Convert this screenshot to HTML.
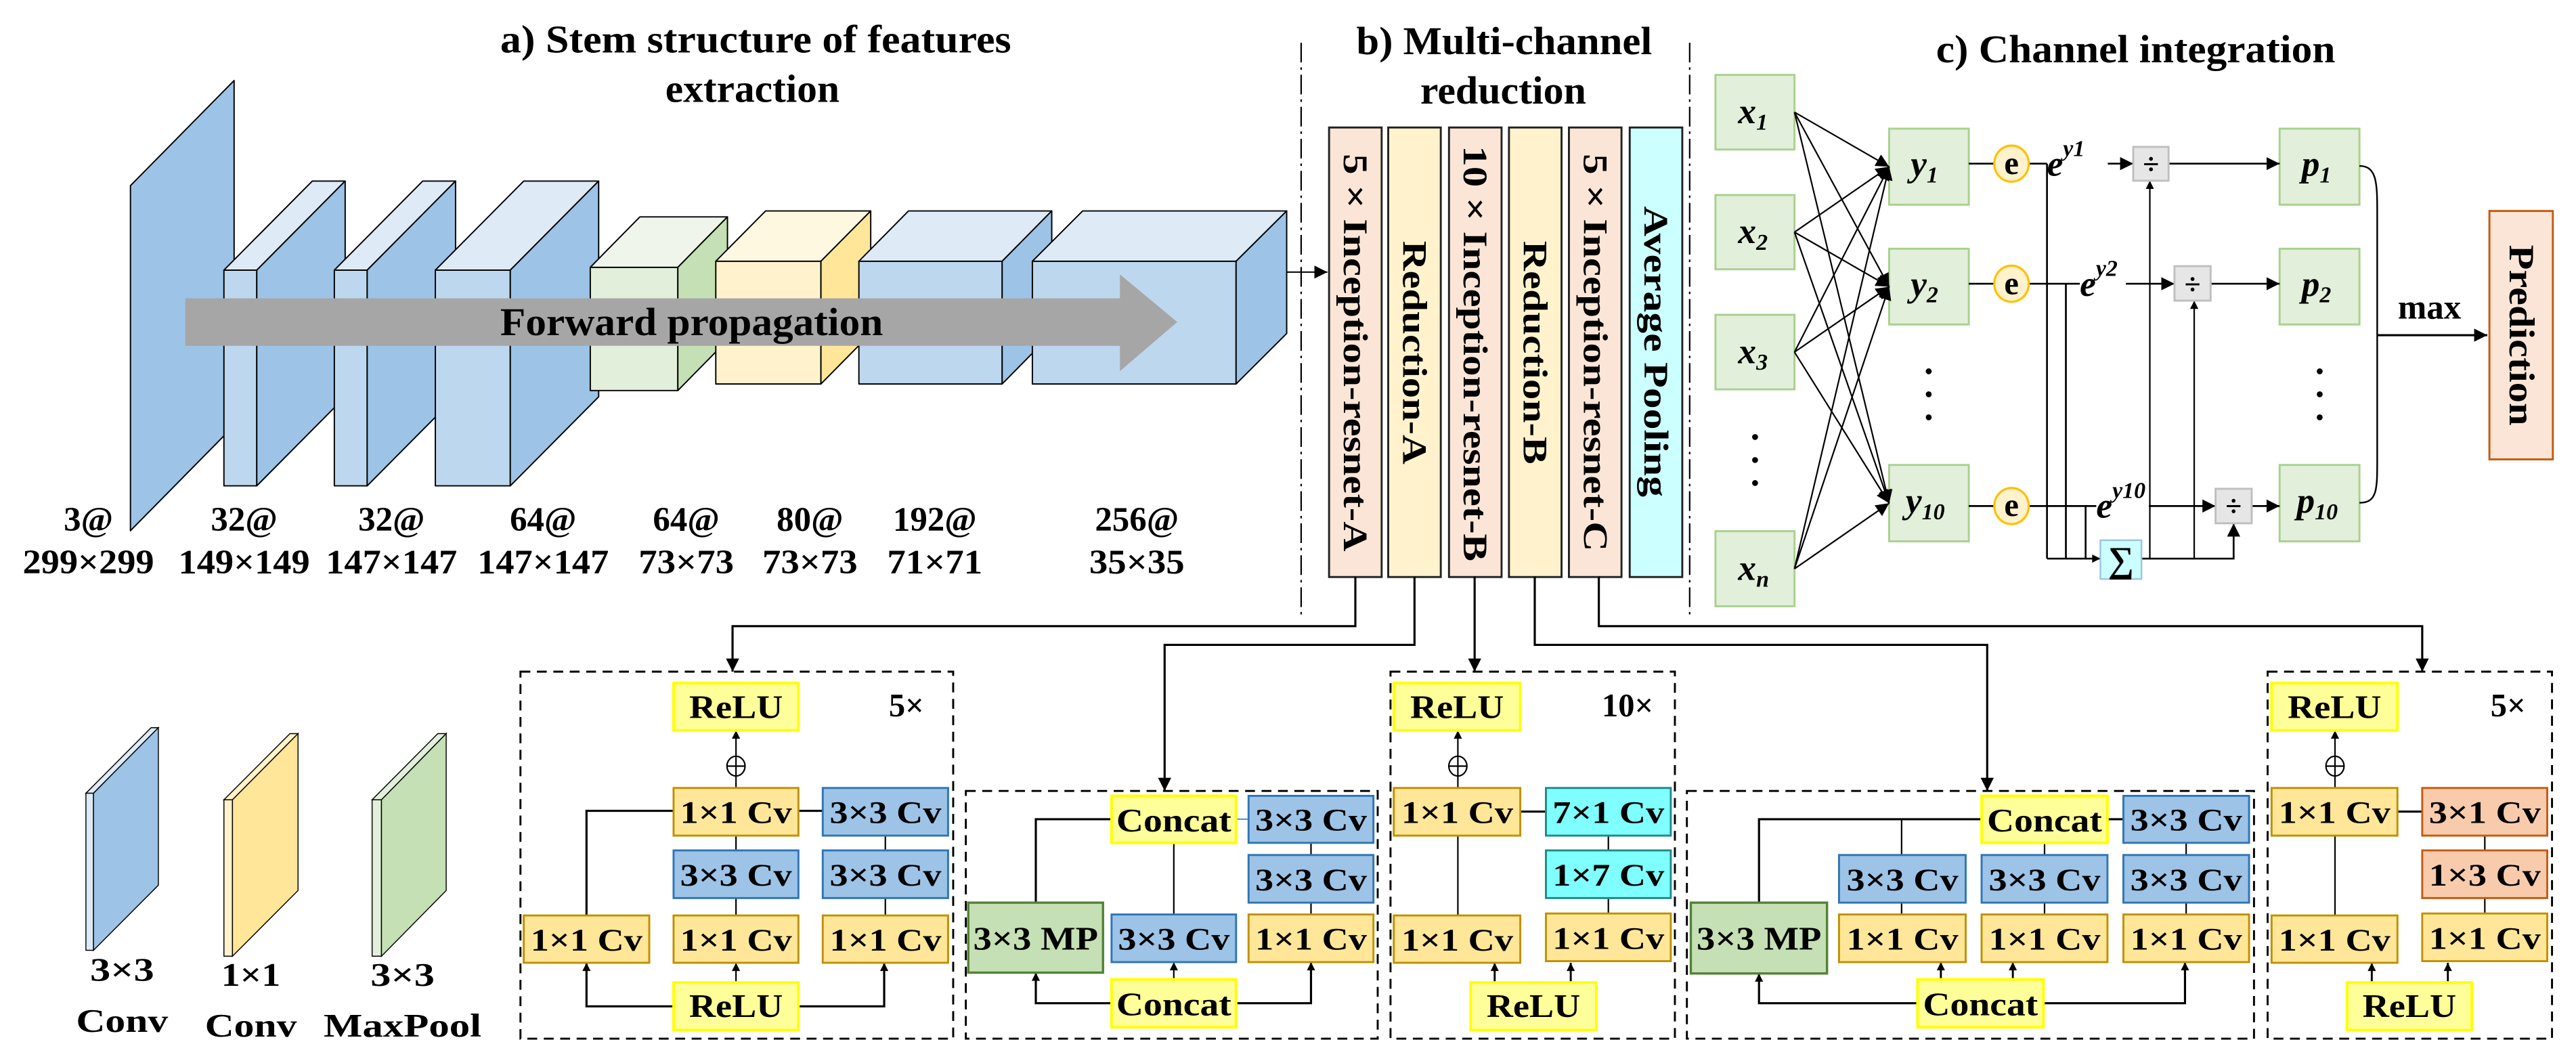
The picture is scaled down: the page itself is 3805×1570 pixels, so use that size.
<!DOCTYPE html>
<html><head><meta charset="utf-8"><style>html,body{margin:0;padding:0;background:#fff}svg{display:block}text{font-family:"Liberation Serif",serif;font-weight:bold;fill:#000}</style></head><body>
<svg width="3805" height="1570" viewBox="0 0 1568 647" preserveAspectRatio="none" xmlns="http://www.w3.org/2000/svg">
<defs>
<marker id="a" viewBox="0 0 10 10" refX="10" refY="5" markerWidth="8" markerHeight="8" markerUnits="userSpaceOnUse" orient="auto"><path d="M0,0L10,5L0,10z" fill="#000"/></marker>
<marker id="b" viewBox="0 0 10 10" refX="10" refY="5" markerWidth="6" markerHeight="5" markerUnits="userSpaceOnUse" orient="auto"><path d="M0,0L10,5L0,10z" fill="#000"/></marker>
</defs>
<rect width="1568" height="647" fill="#fff"/>
<!-- titles -->
<text x="460" y="32" font-size="24" text-anchor="middle" textLength="311" lengthAdjust="spacingAndGlyphs">a) Stem structure of features</text>
<text x="458" y="62" font-size="24" text-anchor="middle" textLength="106" lengthAdjust="spacingAndGlyphs">extraction</text>
<text x="915.6" y="33" font-size="24" text-anchor="middle" textLength="180" lengthAdjust="spacingAndGlyphs">b) Multi-channel</text>
<text x="915" y="63" font-size="24" text-anchor="middle" textLength="101" lengthAdjust="spacingAndGlyphs">reduction</text>
<text x="1300" y="38" font-size="24" text-anchor="middle" textLength="243" lengthAdjust="spacingAndGlyphs">c) Channel integration</text>
<!-- dash-dot separators -->
<g stroke="#000" stroke-width="0.9" stroke-dasharray="12,3,1.5,3">
<line x1="792" y1="26" x2="792" y2="374"/><line x1="1028.5" y1="26" x2="1028.5" y2="374"/></g>
<!-- stem -->
<g stroke="#000" stroke-width="0.8" stroke-linejoin="round">
<polygon points="79.4,113 142.5,49 142.5,259 79.4,323" fill="#9dc3e6"/>
<rect x="136.3" y="164.4" width="20" height="131.3" fill="#bdd7ee"/>
<polygon points="136.3,164.4 190.1,110.2 210.1,110.2 156.3,164.4" fill="#deebf7"/>
<polygon points="156.3,164.4 210.1,110.2 210.1,241.5 156.3,295.7" fill="#9dc3e6"/>
<rect x="203.5" y="164.4" width="20" height="131.3" fill="#bdd7ee"/>
<polygon points="203.5,164.4 257.3,110.2 277.3,110.2 223.5,164.4" fill="#deebf7"/>
<polygon points="223.5,164.4 277.3,110.2 277.3,241.5 223.5,295.7" fill="#9dc3e6"/>
<rect x="265" y="164.4" width="45.6" height="131.3" fill="#bdd7ee"/>
<polygon points="265,164.4 318.8,110.2 364.4,110.2 310.6,164.4" fill="#deebf7"/>
<polygon points="310.6,164.4 364.4,110.2 364.4,241.5 310.6,295.7" fill="#9dc3e6"/>
<rect x="359.3" y="162.7" width="53.3" height="75" fill="#e2efda"/>
<polygon points="359.3,162.7 389.5,132 442.8,132 412.6,162.7" fill="#eff5ea"/>
<polygon points="412.6,162.7 442.8,132 442.8,207 412.6,237.7" fill="#c5e0b4"/>
<rect x="435.7" y="159" width="64" height="74.7" fill="#fff2cc"/>
<polygon points="435.7,159 466,128.4 530,128.4 499.7,159" fill="#fff8e1"/>
<polygon points="499.7,159 530,128.4 530,203 499.7,233.7" fill="#ffe699"/>
<rect x="522.8" y="159" width="87.2" height="74.7" fill="#bdd7ee"/>
<polygon points="522.8,159 553,128.4 640.2,128.4 610,159" fill="#deebf7"/>
<polygon points="610,159 640.2,128.4 640.2,203 610,233.7" fill="#9dc3e6"/>
<rect x="628.4" y="159" width="124" height="74.7" fill="#bdd7ee"/>
<polygon points="628.4,159 659,128.4 783.2,128.4 752.4,159" fill="#deebf7"/>
<polygon points="752.4,159 783.2,128.4 783.2,203 752.4,233.7" fill="#9dc3e6"/>
</g>
<polygon points="112.8,181.6 681.7,181.6 681.7,167 716.6,196 681.7,225.9 681.7,210.5 112.8,210.5" fill="#a6a6a6"/>
<text x="421" y="204" font-size="24" text-anchor="middle" textLength="233" lengthAdjust="spacingAndGlyphs">Forward propagation</text>
<line x1="783.2" y1="165.6" x2="808" y2="165.6" stroke="#000" stroke-width="0.8" marker-end="url(#a)"/>
<g font-size="21" text-anchor="middle">
<text x="53.8" y="323">3@</text><text x="53.8" y="349" textLength="80" lengthAdjust="spacingAndGlyphs">299×299</text>
<text x="148.6" y="323">32@</text><text x="148.6" y="349" textLength="80" lengthAdjust="spacingAndGlyphs">149×149</text>
<text x="238.3" y="323">32@</text><text x="238.3" y="349" textLength="80" lengthAdjust="spacingAndGlyphs">147×147</text>
<text x="330.6" y="323">64@</text><text x="330.6" y="349" textLength="80" lengthAdjust="spacingAndGlyphs">147×147</text>
<text x="417.7" y="323">64@</text><text x="417.7" y="349" textLength="58" lengthAdjust="spacingAndGlyphs">73×73</text>
<text x="493" y="323">80@</text><text x="493" y="349" textLength="58" lengthAdjust="spacingAndGlyphs">73×73</text>
<text x="569" y="323">192@</text><text x="569" y="349" textLength="58" lengthAdjust="spacingAndGlyphs">71×71</text>
<text x="692" y="323">256@</text><text x="692" y="349" textLength="58" lengthAdjust="spacingAndGlyphs">35×35</text>
</g>
<!-- columns -->
<g stroke="#222" stroke-width="1.2">
<rect x="809" y="77.6" width="32" height="273.6" fill="#fbe5d6"/>
<rect x="845" y="77.6" width="32" height="273.6" fill="#fff2cc"/>
<rect x="882" y="77.6" width="32" height="273.6" fill="#fbe5d6"/>
<rect x="918.5" y="77.6" width="32" height="273.6" fill="#fff2cc"/>
<rect x="955" y="77.6" width="32" height="273.6" fill="#fbe5d6"/>
<rect x="992" y="77.6" width="32" height="273.6" fill="#ccffff"/>
</g>
<g font-size="21">
<text transform="translate(825,214.6) rotate(90)" text-anchor="middle" dy="7" textLength="242" lengthAdjust="spacingAndGlyphs">5 × Inception-resnet-A</text>
<text transform="translate(861,214.6) rotate(90)" text-anchor="middle" dy="7" textLength="136" lengthAdjust="spacingAndGlyphs">Reduction-A</text>
<text transform="translate(898,215.2) rotate(90)" text-anchor="middle" dy="7" textLength="253" lengthAdjust="spacingAndGlyphs">10 × Inception-resnet-B</text>
<text transform="translate(934.5,214.6) rotate(90)" text-anchor="middle" dy="7" textLength="136" lengthAdjust="spacingAndGlyphs">Reduction-B</text>
<text transform="translate(971,214.6) rotate(90)" text-anchor="middle" dy="7" textLength="242" lengthAdjust="spacingAndGlyphs">5 × Inception-resnet-C</text>
<text transform="translate(1008,214) rotate(90)" text-anchor="middle" dy="7" textLength="177" lengthAdjust="spacingAndGlyphs">Average Pooling</text>
</g>
<!-- channel integration -->
<g fill="#e2efda" stroke="#a9d18e" stroke-width="1.2">
<rect x="1044.2" y="45.6" width="48.1" height="45.4"/><rect x="1044.2" y="118.7" width="48.1" height="45.2"/>
<rect x="1044.2" y="191.6" width="48.1" height="45.4"/><rect x="1044.2" y="323.3" width="48.1" height="45.7"/>
<rect x="1149.9" y="78.3" width="48.5" height="46.3"/><rect x="1149.9" y="151.4" width="48.5" height="46.1"/>
<rect x="1149.9" y="283" width="48.5" height="46.5"/>
<rect x="1387.6" y="78.3" width="48.6" height="46.3"/><rect x="1387.6" y="151.4" width="48.6" height="46.1"/>
<rect x="1387.6" y="283" width="48.6" height="46.5"/>
</g>
<g font-size="22" font-style="italic">
<text x="1058" y="75">x<tspan font-size="14" dy="4">1</tspan></text>
<text x="1058" y="148">x<tspan font-size="14" dy="4">2</tspan></text>
<text x="1058" y="221">x<tspan font-size="14" dy="4">3</tspan></text>
<text x="1058" y="353">x<tspan font-size="14" dy="4">n</tspan></text>
<text x="1163" y="107">y<tspan font-size="14" dy="4">1</tspan></text>
<text x="1163" y="180">y<tspan font-size="14" dy="4">2</tspan></text>
<text x="1160" y="312">y<tspan font-size="14" dy="4">10</tspan></text>
<text x="1401" y="107">p<tspan font-size="14" dy="4">1</tspan></text>
<text x="1401" y="180">p<tspan font-size="14" dy="4">2</tspan></text>
<text x="1398" y="312">p<tspan font-size="14" dy="4">10</tspan></text>
</g>
<g fill="#000"><circle cx="1068.3" cy="266" r="1.8"/><circle cx="1068.3" cy="280" r="1.8"/><circle cx="1068.3" cy="294" r="1.8"/>
<circle cx="1174" cy="226" r="1.8"/><circle cx="1174" cy="240" r="1.8"/><circle cx="1174" cy="254" r="1.8"/>
<circle cx="1412" cy="226" r="1.8"/><circle cx="1412" cy="240" r="1.8"/><circle cx="1412" cy="254" r="1.8"/></g>
<g stroke="#000" stroke-width="0.9" marker-end="url(#a)">
<line x1="1092.3" y1="68.3" x2="1149.9" y2="101.5"/><line x1="1092.3" y1="68.3" x2="1149.9" y2="174.5"/><line x1="1092.3" y1="68.3" x2="1149.9" y2="306.3"/>
<line x1="1092.3" y1="141.3" x2="1149.9" y2="101.5"/><line x1="1092.3" y1="141.3" x2="1149.9" y2="174.5"/><line x1="1092.3" y1="141.3" x2="1149.9" y2="306.3"/>
<line x1="1092.3" y1="214.3" x2="1149.9" y2="101.5"/><line x1="1092.3" y1="214.3" x2="1149.9" y2="174.5"/><line x1="1092.3" y1="214.3" x2="1149.9" y2="306.3"/>
<line x1="1092.3" y1="346.2" x2="1149.9" y2="101.5"/><line x1="1092.3" y1="346.2" x2="1149.9" y2="174.5"/><line x1="1092.3" y1="346.2" x2="1149.9" y2="306.3"/>
</g>
<g stroke="#000" stroke-width="1.1" fill="none">
<line x1="1198.4" y1="99.6" x2="1214" y2="99.6"/><line x1="1235" y1="99.6" x2="1246" y2="99.6"/>
<line x1="1198.4" y1="172.7" x2="1214" y2="172.7"/><line x1="1235" y1="172.7" x2="1266" y2="172.7"/>
<line x1="1198.4" y1="308" x2="1214" y2="308"/><line x1="1235" y1="308" x2="1276" y2="308"/>
<polyline points="1246,99.6 1246,340"/><polyline points="1257.5,172.7 1257.5,340"/><polyline points="1269.5,308 1269.5,340"/>
<line x1="1246" y1="340" x2="1278.5" y2="340" marker-end="url(#b)"/>
<line x1="1283" y1="99.6" x2="1298.5" y2="99.6" marker-end="url(#a)"/>
<line x1="1320" y1="99.6" x2="1387.6" y2="99.6" marker-end="url(#a)"/>
<line x1="1294" y1="172.7" x2="1323.6" y2="172.7" marker-end="url(#a)"/>
<line x1="1345.6" y1="172.7" x2="1387.6" y2="172.7" marker-end="url(#a)"/>
<line x1="1308" y1="308" x2="1348.6" y2="308" marker-end="url(#a)"/>
<line x1="1370.6" y1="308" x2="1387.6" y2="308" marker-end="url(#a)"/>
<polyline points="1303.5,340 1359.6,340 1359.6,318.6" marker-end="url(#a)"/>
<line x1="1308.6" y1="340" x2="1308.6" y2="110" stroke-width="0.9" marker-end="url(#b)"/>
<line x1="1335.6" y1="340" x2="1335.6" y2="183" stroke-width="0.9" marker-end="url(#b)"/>
<path d="M1436.2,101 C1447,101 1447,112 1447,130 L1447,280 C1447,298 1447,306 1436.2,306" stroke-width="1"/>
<line x1="1447" y1="204" x2="1514" y2="204" stroke-width="1.3" marker-end="url(#a)"/>
</g>
<g fill="#fff2cc" stroke="#ffc000" stroke-width="1.3">
<ellipse cx="1224.4" cy="99.6" rx="10.5" ry="11"/><ellipse cx="1224.4" cy="172.7" rx="10.5" ry="11"/><ellipse cx="1224.4" cy="308" rx="10.5" ry="11"/></g>
<g font-size="20" text-anchor="middle"><text x="1224.4" y="106">e</text><text x="1224.4" y="179">e</text><text x="1224.4" y="314">e</text></g>
<g font-size="22" font-style="italic">
<text x="1246" y="107">e<tspan font-size="14" dy="-12">y1</tspan></text>
<text x="1266" y="180">e<tspan font-size="14" dy="-12">y2</tspan></text>
<text x="1276" y="315">e<tspan font-size="14" dy="-12">y10</tspan></text></g>
<g fill="#e7e6e6" stroke="#bfbfbf" stroke-width="1.2">
<rect x="1298.5" y="89.4" width="21.5" height="20.6"/><rect x="1323.6" y="162" width="22" height="21"/><rect x="1348.6" y="297.5" width="22" height="21"/></g>
<g font-size="18" text-anchor="middle" font-weight="normal"><text x="1309.3" y="106">÷</text><text x="1334.6" y="179">÷</text><text x="1359.6" y="314">÷</text></g>
<rect x="1278.5" y="328.8" width="25" height="23.6" fill="#ccffff" stroke="#9dc3e6"/>
<text x="1291" y="348" font-size="22" text-anchor="middle" font-weight="normal">∑</text>
<rect x="1515.3" y="128.4" width="38.6" height="151.2" fill="#fbe5d6" stroke="#c55a11" stroke-width="1.2"/>
<text transform="translate(1534.6,204) rotate(90)" text-anchor="middle" dy="7" font-size="22" textLength="110" lengthAdjust="spacingAndGlyphs">Prediction</text>
<text x="1478.8" y="194" font-size="21" text-anchor="middle">max</text>
<!-- connectors to bottom -->
<g stroke="#000" stroke-width="1.3" fill="none" marker-end="url(#a)">
<polyline points="825,351 825,381.1 445.9,381.1 445.9,408.8"/>
<polyline points="861,351 861,392.5 708.9,392.5 708.9,481.4"/>
<polyline points="897.6,351 897.6,408.8"/>
<polyline points="934.2,351 934.2,392.5 1209.6,392.5 1209.6,481.4"/>
<polyline points="973.2,351 973.2,381.1 1474.4,381.1 1474.4,408.8"/>
</g>
<!-- dashed boxes -->
<g fill="none" stroke="#000" stroke-width="1.2" stroke-dasharray="6,4">
<rect x="316.8" y="408.8" width="263.4" height="223.4"/>
<rect x="587.9" y="481.4" width="250.7" height="150.8"/>
<rect x="846.4" y="408.8" width="173.1" height="223.4"/>
<rect x="1026.8" y="481.4" width="345.2" height="150.8"/>
<rect x="1380.3" y="408.8" width="173.1" height="223.4"/>
</g>
<!-- legend -->
<g stroke="#000" stroke-width="0.6">
<polygon points="52.3,482.8 92,442.9 96.4,442.9 56.9,482.8" fill="#deebf7"/>
<rect x="52.3" y="482.8" width="4.6" height="95.6" fill="#deebf7"/>
<polygon points="56.9,482.8 96.4,442.9 96.4,538.8 56.9,578.4" fill="#9dc3e6"/>
<polygon points="136.3,486.8 176.5,446.5 181.4,446.5 141.5,486.8" fill="#fff2cc"/>
<rect x="136.3" y="486.8" width="5.2" height="95.2" fill="#fff2cc"/>
<polygon points="141.5,486.8 181.4,446.5 181.4,542 141.5,582" fill="#ffe699"/>
<polygon points="226.5,486.8 266.5,446.5 271.6,446.5 232.2,486.8" fill="#e2efda"/>
<rect x="226.5" y="486.8" width="5.7" height="95.2" fill="#e2efda"/>
<polygon points="232.2,486.8 271.6,446.5 271.6,542 232.2,582" fill="#c5e0b4"/>
</g>
<g font-size="20" text-anchor="middle">
<text x="74.3" y="597" textLength="39" lengthAdjust="spacingAndGlyphs">3×3</text><text x="74.3" y="628" textLength="56" lengthAdjust="spacingAndGlyphs">Conv</text>
<text x="152.7" y="600" textLength="36" lengthAdjust="spacingAndGlyphs">1×1</text><text x="152.7" y="631" textLength="56" lengthAdjust="spacingAndGlyphs">Conv</text>
<text x="245" y="600" textLength="39" lengthAdjust="spacingAndGlyphs">3×3</text><text x="245" y="631" textLength="96" lengthAdjust="spacingAndGlyphs">MaxPool</text>
</g>
<!-- box lines -->
<g stroke="#000" stroke-width="0.9" fill="none">
<line x1="448" y1="479.6" x2="448" y2="472"/><line x1="448" y1="460.5" x2="448" y2="444.6" marker-end="url(#b)"/>
<polyline points="357,557.2 357,493.5 410,493.5" stroke-width="1.3"/><line x1="486" y1="493.5" x2="500.8" y2="493.5" stroke-width="1.3"/>
<line x1="448" y1="508.6" x2="448" y2="557.2"/><line x1="538.9" y1="508.6" x2="538.9" y2="557.2"/>
<line x1="448" y1="598" x2="448" y2="586" marker-end="url(#b)"/>
<polyline points="410,612.5 357,612.5 357,586" stroke-width="1.3" marker-end="url(#b)"/>
<polyline points="486,612.5 538.2,612.5 538.2,586" stroke-width="1.3" marker-end="url(#b)"/>
<polyline points="676.6,498.6 630.5,498.6 630.5,549.4" stroke-width="1.3"/>
<line x1="752.4" y1="498.6" x2="760" y2="498.6" stroke="#5b9bd5"/>
<line x1="798" y1="513" x2="798" y2="556.6"/><line x1="714.5" y1="513" x2="714.5" y2="556.6"/>
<line x1="714.5" y1="596.1" x2="714.5" y2="585.6" marker-end="url(#b)"/>
<polyline points="676.6,610.6 630.5,610.6 630.5,592" stroke-width="1.3" marker-end="url(#b)"/>
<polyline points="752.4,610.6 798,610.6 798,585.6" stroke-width="1.3" marker-end="url(#b)"/>
<line x1="887.4" y1="479.6" x2="887.4" y2="472"/><line x1="887.4" y1="460.5" x2="887.4" y2="444.6" marker-end="url(#b)"/>
<line x1="925.4" y1="494" x2="941" y2="494" stroke-width="1.3"/>
<line x1="887.4" y1="508.6" x2="887.4" y2="557.2"/><line x1="979" y1="508.6" x2="979" y2="557.2"/>
<line x1="909.8" y1="598" x2="909.8" y2="586" stroke-width="1.2" marker-end="url(#b)"/>
<line x1="956.1" y1="598" x2="956.1" y2="586" stroke-width="1.2" marker-end="url(#b)"/>
<line x1="1282.8" y1="498.6" x2="1292.5" y2="498.6" stroke-width="1.3"/>
<polyline points="1206.2,498.6 1070.7,498.6 1070.7,549.4" stroke-width="1.3"/>
<line x1="1157.5" y1="498.6" x2="1157.5" y2="556.6"/>
<line x1="1244.5" y1="513" x2="1244.5" y2="556.6"/><line x1="1330.7" y1="513" x2="1330.7" y2="556.6"/>
<line x1="1181.4" y1="596.1" x2="1181.4" y2="585.6" stroke-width="1.2" marker-end="url(#b)"/>
<line x1="1225.2" y1="596.1" x2="1225.2" y2="585.6" stroke-width="1.2" marker-end="url(#b)"/>
<polyline points="1167.2,610.6 1070.7,610.6 1070.7,592.5" stroke-width="1.3" marker-end="url(#b)"/>
<polyline points="1243.8,610.6 1330,610.6 1330,585.6" stroke-width="1.3" marker-end="url(#b)"/>
<line x1="1421.3" y1="479.6" x2="1421.3" y2="472"/><line x1="1421.3" y1="460.5" x2="1421.3" y2="444.6" marker-end="url(#b)"/>
<line x1="1459.3" y1="494" x2="1474.4" y2="494" stroke-width="1.3"/>
<line x1="1421.3" y1="508.6" x2="1421.3" y2="557.2"/><line x1="1512.5" y1="508.6" x2="1512.5" y2="557.2"/>
<line x1="1443.7" y1="598" x2="1443.7" y2="586" stroke-width="1.2" marker-end="url(#b)"/>
<line x1="1490" y1="598" x2="1490" y2="586" stroke-width="1.2" marker-end="url(#b)"/>
<ellipse cx="448" cy="466.3" rx="5.5" ry="6"/><line x1="442.5" y1="466.3" x2="453.5" y2="466.3"/><line x1="448" y1="460.3" x2="448" y2="472.3"/>
<ellipse cx="887.4" cy="466.3" rx="5.5" ry="6"/><line x1="881.9" y1="466.3" x2="892.9" y2="466.3"/><line x1="887.4" y1="460.3" x2="887.4" y2="472.3"/>
<ellipse cx="1421.3" cy="466.3" rx="5.5" ry="6"/><line x1="1415.8" y1="466.3" x2="1426.8" y2="466.3"/><line x1="1421.3" y1="460.3" x2="1421.3" y2="472.3"/>
</g>
<g fill="#ffff99" stroke="#ffff00" stroke-width="1.6">
<rect x="410" y="415.7" width="76" height="28.9"/><rect x="410" y="598" width="76" height="29"/>
<rect x="676.6" y="484.4" width="75.8" height="28.6"/><rect x="676.6" y="596.1" width="75.8" height="29.1"/>
<rect x="848.4" y="415.7" width="77" height="28.9"/><rect x="895.2" y="598" width="76.5" height="29"/>
<rect x="1206.2" y="484.4" width="76.6" height="28.6"/><rect x="1167.2" y="596.1" width="76.6" height="29.1"/>
<rect x="1382.7" y="415.7" width="76.6" height="28.9"/><rect x="1428.6" y="598" width="76" height="29"/>
</g>
<g fill="#ffe699" stroke="#bf9000" stroke-width="1.2">
<rect x="410" y="479.6" width="76" height="29"/>
<rect x="318.8" y="557.2" width="76.4" height="28.8"/><rect x="410" y="557.2" width="76" height="28.8"/><rect x="500.8" y="557.2" width="76.3" height="28.8"/>
<rect x="760" y="556.6" width="76" height="29"/>
<rect x="848.4" y="479.6" width="77" height="29"/><rect x="848.4" y="557.2" width="77" height="28.8"/><rect x="941" y="556" width="76" height="29"/>
<rect x="1119.4" y="556.6" width="77.1" height="29"/><rect x="1206.2" y="556.6" width="76.6" height="29"/><rect x="1292.5" y="556.6" width="76.5" height="29"/>
<rect x="1382.7" y="479.6" width="76.6" height="29"/><rect x="1382.7" y="557.2" width="76.6" height="28.8"/><rect x="1474.4" y="556" width="76.1" height="29"/>
</g>
<g fill="#9dc3e6" stroke="#2e75b6" stroke-width="1.2">
<rect x="500.8" y="479.6" width="76.3" height="29"/><rect x="410" y="517.6" width="76" height="29"/><rect x="500.8" y="517.6" width="76.3" height="29"/>
<rect x="760" y="484.4" width="76" height="28.6"/><rect x="760" y="520.4" width="76" height="29"/><rect x="676.6" y="556.6" width="75.8" height="29"/>
<rect x="1292.5" y="484.4" width="76.5" height="28.6"/>
<rect x="1119.4" y="520.4" width="77.1" height="29"/><rect x="1206.2" y="520.4" width="76.6" height="29"/><rect x="1292.5" y="520.4" width="76.5" height="29"/>
</g>
<g fill="#7fffff" stroke="#1f8a8a" stroke-width="1.2">
<rect x="941" y="479.6" width="76" height="29"/><rect x="941" y="517.6" width="76" height="29"/></g>
<g fill="#f8cbad" stroke="#c55a11" stroke-width="1.2">
<rect x="1474.4" y="479.6" width="76.1" height="29"/><rect x="1474.4" y="517.6" width="76.1" height="29"/></g>
<g fill="#c5e0b4" stroke="#548235" stroke-width="1.4">
<rect x="589.4" y="549.4" width="82" height="42.6"/><rect x="1029.2" y="549.4" width="82.9" height="43.1"/></g>
<g font-size="20" text-anchor="middle">
<text x="448" y="437" textLength="57" lengthAdjust="spacingAndGlyphs">ReLU</text>
<text x="448" y="619" textLength="57" lengthAdjust="spacingAndGlyphs">ReLU</text>
<text x="886.9" y="437" textLength="57" lengthAdjust="spacingAndGlyphs">ReLU</text>
<text x="933.4" y="619" textLength="57" lengthAdjust="spacingAndGlyphs">ReLU</text>
<text x="1421" y="437" textLength="57" lengthAdjust="spacingAndGlyphs">ReLU</text>
<text x="1466.6" y="619" textLength="57" lengthAdjust="spacingAndGlyphs">ReLU</text>
<text x="714.5" y="506" textLength="70" lengthAdjust="spacingAndGlyphs">Concat</text>
<text x="714.5" y="618" textLength="70" lengthAdjust="spacingAndGlyphs">Concat</text>
<text x="1244.5" y="506" textLength="70" lengthAdjust="spacingAndGlyphs">Concat</text>
<text x="1205.5" y="618" textLength="70" lengthAdjust="spacingAndGlyphs">Concat</text>
<text x="630.4" y="578" textLength="76" lengthAdjust="spacingAndGlyphs">3×3 MP</text>
<text x="1070.7" y="578" textLength="76" lengthAdjust="spacingAndGlyphs">3×3 MP</text>
</g>
<g font-size="19" text-anchor="middle">
<text x="448" y="501" textLength="68" lengthAdjust="spacingAndGlyphs">1×1 Cv</text>
<text x="539" y="501" textLength="68" lengthAdjust="spacingAndGlyphs">3×3 Cv</text>
<text x="448" y="539" textLength="68" lengthAdjust="spacingAndGlyphs">3×3 Cv</text>
<text x="539" y="539" textLength="68" lengthAdjust="spacingAndGlyphs">3×3 Cv</text>
<text x="357" y="578.5" textLength="68" lengthAdjust="spacingAndGlyphs">1×1 Cv</text>
<text x="448" y="578.5" textLength="68" lengthAdjust="spacingAndGlyphs">1×1 Cv</text>
<text x="539" y="578.5" textLength="68" lengthAdjust="spacingAndGlyphs">1×1 Cv</text>
<text x="798" y="505.5" textLength="68" lengthAdjust="spacingAndGlyphs">3×3 Cv</text>
<text x="798" y="542" textLength="68" lengthAdjust="spacingAndGlyphs">3×3 Cv</text>
<text x="714.5" y="578" textLength="68" lengthAdjust="spacingAndGlyphs">3×3 Cv</text>
<text x="798" y="578" textLength="68" lengthAdjust="spacingAndGlyphs">1×1 Cv</text>
<text x="887" y="501" textLength="68" lengthAdjust="spacingAndGlyphs">1×1 Cv</text>
<text x="979" y="501" textLength="68" lengthAdjust="spacingAndGlyphs">7×1 Cv</text>
<text x="979" y="539" textLength="68" lengthAdjust="spacingAndGlyphs">1×7 Cv</text>
<text x="887" y="578.5" textLength="68" lengthAdjust="spacingAndGlyphs">1×1 Cv</text>
<text x="979" y="577.5" textLength="68" lengthAdjust="spacingAndGlyphs">1×1 Cv</text>
<text x="1330.7" y="505.5" textLength="68" lengthAdjust="spacingAndGlyphs">3×3 Cv</text>
<text x="1158" y="542" textLength="68" lengthAdjust="spacingAndGlyphs">3×3 Cv</text>
<text x="1244.5" y="542" textLength="68" lengthAdjust="spacingAndGlyphs">3×3 Cv</text>
<text x="1330.7" y="542" textLength="68" lengthAdjust="spacingAndGlyphs">3×3 Cv</text>
<text x="1158" y="578" textLength="68" lengthAdjust="spacingAndGlyphs">1×1 Cv</text>
<text x="1244.5" y="578" textLength="68" lengthAdjust="spacingAndGlyphs">1×1 Cv</text>
<text x="1330.7" y="578" textLength="68" lengthAdjust="spacingAndGlyphs">1×1 Cv</text>
<text x="1421" y="501" textLength="68" lengthAdjust="spacingAndGlyphs">1×1 Cv</text>
<text x="1512.5" y="501" textLength="68" lengthAdjust="spacingAndGlyphs">3×1 Cv</text>
<text x="1512.5" y="539" textLength="68" lengthAdjust="spacingAndGlyphs">1×3 Cv</text>
<text x="1421" y="578.5" textLength="68" lengthAdjust="spacingAndGlyphs">1×1 Cv</text>
<text x="1512.5" y="577.5" textLength="68" lengthAdjust="spacingAndGlyphs">1×1 Cv</text>
</g>
<g font-size="20"><text x="541" y="436">5×</text><text x="975" y="436">10×</text><text x="1516" y="436">5×</text></g>
</svg>
</body></html>
